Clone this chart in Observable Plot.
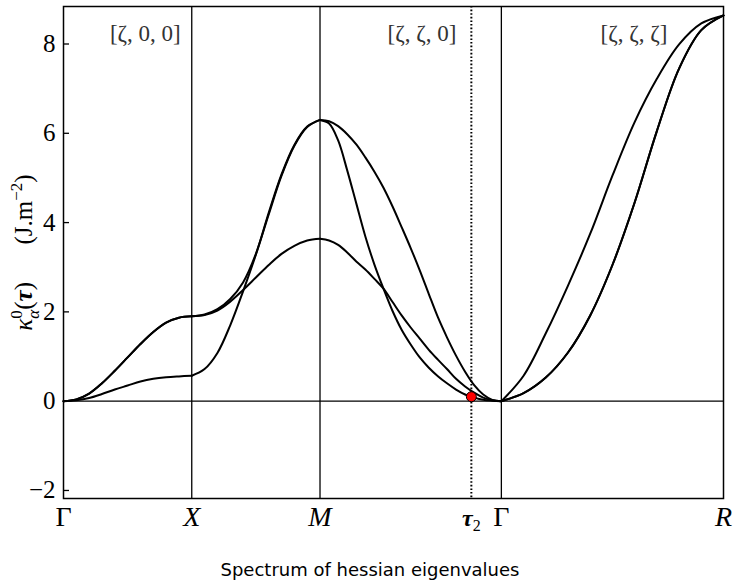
<!DOCTYPE html>
<html><head><meta charset="utf-8">
<script src="https://cdn.jsdelivr.net/npm/d3@7"></script>
<script src="https://cdn.jsdelivr.net/npm/@observablehq/plot@0.6"></script>
<style>
body{margin:0;background:#fff;}
#chart svg{display:block;}
#cap{width:740px;text-align:center;font-family:"DejaVu Sans",sans-serif;font-size:18px;line-height:20px;margin-top:20px;color:#000;}
</style></head><body>
<div id="chart"></div>
<div id="cap"></div>
<script>
// ---- data ----
const caption = "Spectrum of hessian eigenvalues";
const pathTicks = [0, 1, 2, 3.414, 5.146];          // Γ, X, M, Γ, R (path length)
const pathLabels = ["Γ", "X", "M", "Γ", "R"];
const tau2 = 3.18;
const tau2Label = "τ2";
const tau2Value = 0.1;
const yTicks = [-2, 0, 2, 4, 6, 8];
const segNames = ["GX", "XM", "MG", "GR"];
const segStart = [0, 1, 2, 3.414];
const segLength = [1, 1, 1.414, 1.732];
const gridCoarse = [0, 0.1, 0.2, 0.3, 0.4, 0.5, 0.6, 0.7, 0.8, 0.9, 1];
const gridFine = [0, 0.05, 0.1, 0.15, 0.2, 0.25, 0.3, 0.35, 0.4, 0.45, 0.5, 0.55, 0.6, 0.65, 0.7, 0.75, 0.8, 0.85, 0.9, 0.95, 1];
const directions = ["[ζ, 0, 0]", "[ζ, ζ, 0]", "[ζ, ζ, ζ]"];
const yLabelText = "κ0α(τ)  (J.m−2)";

// band 1
const b1_GX = [0, 0.02, 0.07, 0.16, 0.26, 0.35, 0.44, 0.50, 0.535, 0.555, 0.57];
const b1_XM = [0.57, 0.72, 1.08, 1.70, 2.46, 3.28, 4.18, 5.05, 5.72, 6.14, 6.30];
const b1_MG = [6.30, 6.22, 5.84, 5.17, 4.43, 3.69, 3.06, 2.52, 2.02, 1.60, 1.27, 0.98, 0.75, 0.56, 0.40, 0.26, 0.15, 0.08, 0.03, 0.01, 0];
const b1_GR = [0, 0.18, 0.53, 1.09, 1.92, 3.05, 4.45, 6.05, 7.45, 8.31, 8.64];
// band 2
const b2_GX = [0, 0.04, 0.17, 0.40, 0.68, 0.98, 1.28, 1.55, 1.76, 1.87, 1.90];
const b2_XM = [1.90, 1.93, 2.03, 2.23, 2.49, 2.77, 3.05, 3.30, 3.48, 3.60, 3.64];
const b2_MG = [3.64, 3.60, 3.50, 3.33, 3.13, 2.95, 2.74, 2.52, 2.22, 1.92, 1.65, 1.40, 1.15, 0.93, 0.72, 0.50, 0.33, 0.19, 0.08, 0.02, 0];
const b2_GR = [0, 0.18, 0.53, 1.09, 1.92, 3.05, 4.45, 6.05, 7.45, 8.31, 8.64];
// band 3
const b3_GX = [0, 0.04, 0.17, 0.40, 0.68, 0.98, 1.28, 1.55, 1.76, 1.87, 1.90];
const b3_XM = [1.90, 1.94, 2.06, 2.29, 2.66, 3.30, 4.22, 5.08, 5.74, 6.15, 6.30];
const b3_MG = [6.30, 6.27, 6.16, 5.98, 5.75, 5.46, 5.14, 4.78, 4.36, 3.90, 3.43, 2.93, 2.40, 1.88, 1.43, 1.02, 0.66, 0.36, 0.15, 0.03, 0];
const b3_GR = [0, 0.57, 1.52, 2.59, 3.75, 5.05, 6.25, 7.22, 7.99, 8.46, 8.64];

// ---- build table ----
const bands = [
  [b1_GX, b1_XM, b1_MG, b1_GR],
  [b2_GX, b2_XM, b2_MG, b2_GR],
  [b3_GX, b3_XM, b3_MG, b3_GR]
];
const rows = [];
bands.forEach((segs, bi) => {
  segs.forEach((vals, si) => {
    const grid = vals.length === gridFine.length ? gridFine : gridCoarse;
    vals.forEach((v, i) => rows.push({key: `b${bi}-${segNames[si]}`, x: segStart[si] + grid[i] * segLength[si], y: v}));
  });
});

const serif = "'Liberation Serif','DejaVu Serif',serif";
const lw = 1.3;

const chart = Plot.plot({
  width: 740, height: 540,
  marginLeft: 63, marginRight: 17, marginTop: 6, marginBottom: 42,
  style: {fontFamily: serif, fontSize: "24px", background: "white", overflow: "visible"},
  x: {domain: [0, pathTicks[4]]},
  y: {domain: [-2.18, 8.84]},
  marks: [
    Plot.ruleY([0], {stroke: "black", strokeWidth: lw}),
    Plot.ruleX(pathTicks.slice(1, 4), {stroke: "black", strokeWidth: lw}),
    Plot.ruleX([tau2], {stroke: "black", strokeWidth: 2, strokeDasharray: "1.6,2"}),
    Plot.line(rows, {x: "x", y: "y", z: "key", stroke: "black", strokeWidth: 2, curve: "catmull-rom"}),
    Plot.frame({stroke: "black", strokeWidth: 1.5}),
    Plot.axisY(yTicks, {tickSize: -6, tickPadding: 14, fontSize: 25, fontFamily: serif, label: null, strokeWidth: 1.3}),
    Plot.axisX(pathTicks.concat([tau2]), {tickSize: 0, tickPadding: 8, fontSize: 28, fontFamily: serif, label: null,
      tickFormat: d => d === tau2 ? tau2Label : pathLabels[pathTicks.indexOf(d)]}),
    Plot.text([directions[0]], {x: pathTicks[1], frameAnchor: "top", dy: 18, dx: -11, textAnchor: "end", fontSize: 23, fontFamily: serif, fill: "#333"}),
    Plot.text([directions[1]], {x: tau2, frameAnchor: "top", dy: 18, dx: -15, textAnchor: "end", fontSize: 23, fontFamily: serif, fill: "#333"}),
    Plot.text([directions[2]], {x: pathTicks[4], frameAnchor: "top", dy: 18, dx: -56, textAnchor: "end", fontSize: 23, fontFamily: serif, fill: "#333"}),
    Plot.text([yLabelText], {frameAnchor: "left", textAnchor: "middle", dx: -40, rotate: -90, fontSize: 25, fontFamily: serif}),
    Plot.dot([tau2Value], {x: () => tau2, y: d => d, r: 5, fill: "red", stroke: "black", strokeWidth: 1})
  ]
});
document.getElementById("chart").appendChild(chart);
document.getElementById("cap").textContent = caption;

// ---- typographic refinements (sub/superscripts, italics) ----
d3.select(chart).selectAll("text").filter(function() { return this.textContent === yLabelText; }).each(function() {
  const yl = d3.select(this);
  yl.text(null);
  yl.append("tspan").attr("font-style", "italic").text("κ");
  yl.append("tspan").attr("font-size", 17).attr("dy", -10).text("0");
  yl.append("tspan").attr("font-size", 17).attr("font-style", "italic").attr("dx", -8.5).attr("dy", 17).text("α");
  yl.append("tspan").attr("dy", -7).text("(");
  yl.append("tspan").attr("font-weight", "bold").attr("font-style", "italic").text("τ");
  yl.append("tspan").text(")\u2003\u2002(J.m");
  yl.append("tspan").attr("font-size", 17).attr("dy", -10).text("−2");
  yl.append("tspan").attr("dy", 10).text(")");
});

d3.select(chart).selectAll('g[aria-label="x-axis tick label"] text').each(function() {
  const t = d3.select(this);
  const s = t.text();
  if (s === tau2Label) {
    t.text(null);
    t.append("tspan").attr("font-weight", "bold").attr("font-style", "italic").attr("font-size", 24).text("τ");
    t.append("tspan").attr("font-size", 16).attr("dy", 5).text("2");
  } else if (s === "X" || s === "M" || s === "R") {
    t.attr("font-style", "italic");
  }
});
</script>
</body></html>
